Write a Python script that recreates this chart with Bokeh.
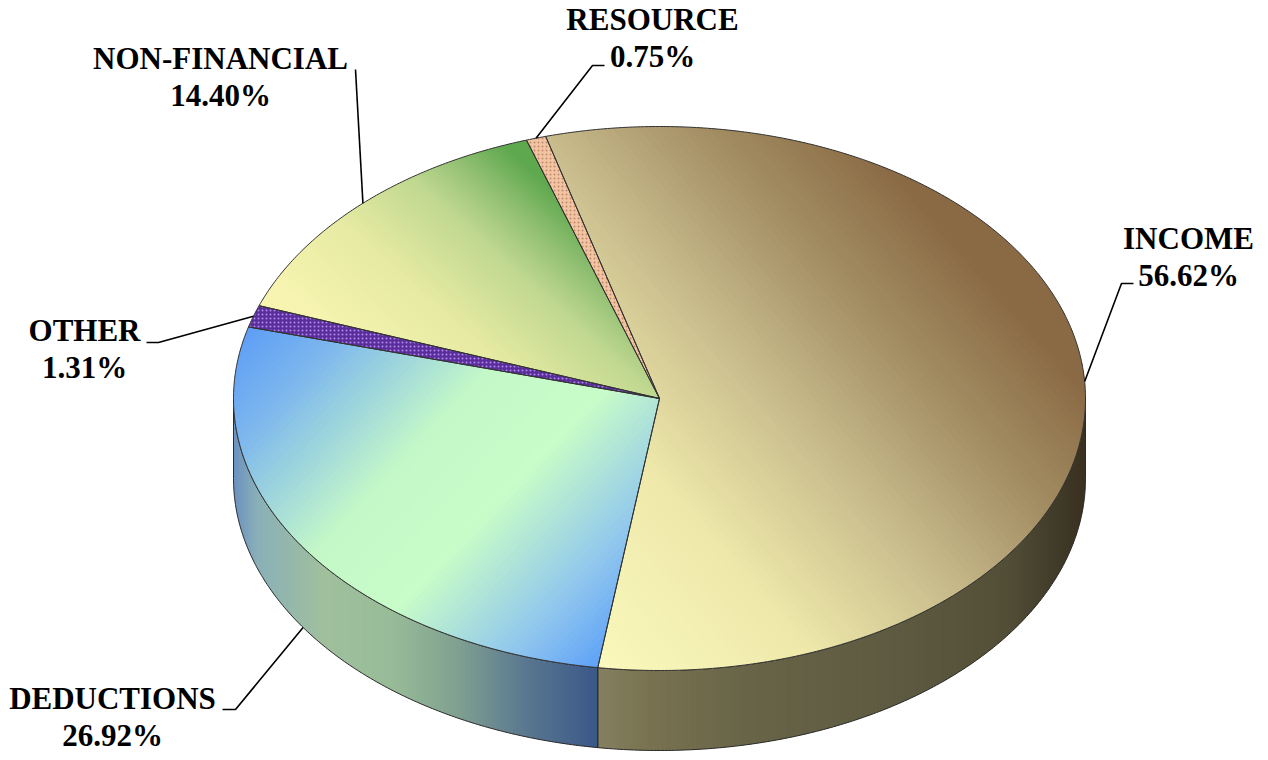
import numpy as np
from bokeh.plotting import figure
from bokeh.models import Range1d, ColumnDataSource
from bokeh.embed import file_html
from bokeh.resources import INLINE
from bokeh.core.properties import value

# ---------------- data ----------------
categories = ["RESOURCE", "INCOME", "DEDUCTIONS", "OTHER", "NON-FINANCIAL"]
shares = [0.75, 56.62, 26.92, 1.31, 14.40]
pct_labels = ["0.75%", "56.62%", "26.92%", "1.31%", "14.40%"]

# ---------------- layout / style ----------------
W, H = 1268, 760
CX, CY, RX, RY, DEPTH = 659, 398, 426, 272, 80
START = 108.2  # degrees, slices run clockwise

label_pos = {
    "RESOURCE": (652, 19),
    "INCOME": (1188, 238),
    "DEDUCTIONS": (112, 698),
    "OTHER": (84, 330),
    "NON-FINANCIAL": (220, 58),
}
leader_pts = {
    "RESOURCE": [(592, 65), (604, 65)],
    "INCOME": [(1121, 283), (1133, 283)],
    "DEDUCTIONS": [(235, 709), (222, 709)],
    "OTHER": [(158, 342), (146, 342)],
    "NON-FINANCIAL": [(355, 69)],
}
leader_on_side = {"DEDUCTIONS"}

top_grad = {
    "INCOME": ((600, 660), (1010, 300),
               [(0.0, "#faf8bc"), (0.3, "#eee8aa"), (0.55, "#cabe8e"),
                (0.8, "#a28c62"), (1.0, "#8a6a44")]),
    "DEDUCTIONS": ((240, 330), (600, 670),
                   [(0.0, "#5c9cf6"), (0.15, "#7cb6ee"), (0.42, "#c4f8c8"),
                    (0.62, "#c8fcc8"), (0.85, "#90c6ee"), (1.0, "#5ca0f8")]),
    "NON-FINANCIAL": ((330, 330), (500, 140),
                      [(0.0, "#f6f4b0"), (0.35, "#e6eaa2"), (0.66, "#c0d890"),
                       (0.82, "#96c276"), (1.0, "#5ea84e")]),
}
flat_style = {
    "OTHER": dict(fill_color="#5a2e9a", hatch_pattern="dot",
                  hatch_color="#b088ec", hatch_scale=4, hatch_weight=1),
    "RESOURCE": dict(fill_color="#f2c4a4", hatch_pattern="dot",
                     hatch_color="#c08a68", hatch_scale=4, hatch_weight=1),
}
side_grad = {
    "DEDUCTIONS": [(233, "#6a90c0"), (258, "#8ab0b8"), (325, "#a0c09c"),
                   (392, "#98bc98"), (458, "#80a090"), (525, "#5a7890"),
                   (597, "#3a5888")],
    "INCOME": [(597, "#858060"), (650, "#787250"), (750, "#686448"),
               (900, "#5c5a40"), (1000, "#545038"), (1060, "#403a28"),
               (1085, "#3a3020")],
}


def hex2rgb(h):
    h = h.lstrip("#")
    return np.array([int(h[i:i + 2], 16) for i in (0, 2, 4)], dtype=float)


def interp(stops, u):
    us = [s[0] for s in stops]
    cs = [hex2rgb(s[1]) for s in stops]
    u = min(max(u, us[0]), us[-1])
    for k in range(len(us) - 1):
        if us[k] <= u <= us[k + 1]:
            f = (u - us[k]) / (us[k + 1] - us[k]) if us[k + 1] > us[k] else 0
            c = cs[k] * (1 - f) + cs[k + 1] * f
            return "#%02x%02x%02x" % tuple(int(round(v)) for v in c)
    return stops[-1][1]


def pt(tdeg, r=1.0):
    t = np.radians(tdeg)
    return CX + r * RX * np.cos(t), CY - r * RY * np.sin(t)


def clip_half(poly, f, thr, keep_ge):
    """Sutherland-Hodgman clip of a polygon by the half plane f(q) >= thr (or <=)."""
    out = []
    n = len(poly)
    if n == 0:
        return out

    def inside(q):
        v = f(q)
        return v >= thr if keep_ge else v <= thr

    for i in range(n):
        cur, prv = poly[i], poly[i - 1]
        ci, pi = inside(cur), inside(prv)
        if ci != pi:
            fp, fc = f(prv), f(cur)
            s = (thr - fp) / (fc - fp)
            out.append((prv[0] + s * (cur[0] - prv[0]),
                        prv[1] + s * (cur[1] - prv[1])))
        if ci:
            out.append(cur)
    return out


def banded(poly, f, colour_of, nb, overlap):
    """Split polygon into nb bands along scalar field f, colour each band."""
    vals = [f(q) for q in poly]
    lo, hi = min(vals), max(vals)
    edges = np.linspace(lo, hi, nb + 1)
    bx, by, bc = [], [], []
    for k in range(nb):
        part = clip_half(poly, f, edges[k] - overlap, True)
        part = clip_half(part, f, edges[k + 1] + overlap, False)
        if len(part) < 3:
            continue
        bx.append([q[0] for q in part])
        by.append([q[1] for q in part])
        bc.append(colour_of((edges[k] + edges[k + 1]) / 2))
    return bx, by, bc


angles = {}
a = START
for c, s in zip(categories, shares):
    b = a - s * 3.6
    angles[c] = (a, b)
    a = b

p = figure(width=W, height=H, x_range=Range1d(0, W), y_range=Range1d(H, 0),
           output_backend="svg", toolbar_location=None, min_border=0,
           x_axis_location=None, y_axis_location=None)
p.grid.visible = False
p.outline_line_color = None
p.background_fill_color = "white"

# ---------------- side walls (front half of the disc) ----------------
sx, sy, sc = [], [], []
side_outlines_x, side_outlines_y = [], []
for c in categories:
    a0, b0 = angles[c]
    for k in (-2, -1, 0):
        lo, hi = max(b0, 180 + 360 * k), min(a0, 360 + 360 * k)
        if hi - lo <= 0.01:
            continue
        ts = np.linspace(lo, hi, int(np.ceil((hi - lo) / 0.5)) + 1)
        xs_top, ys_top = pt(ts)
        ox = list(xs_top) + list(xs_top[::-1])
        oy = list(ys_top) + list(ys_top[::-1] + DEPTH)
        poly = list(zip(ox, oy))
        nb = max(2, int((max(ox) - min(ox)) / 3))
        bx, by, bc = banded(poly, lambda q: q[0],
                            lambda xv, c=c: interp(side_grad[c], xv), nb, 0.6)
        sx += bx
        sy += by
        sc += bc
        side_outlines_x.append(ox + [ox[0]])
        side_outlines_y.append(oy + [oy[0]])

p.patches(xs="xs", ys="ys", fill_color="c", line_color=None,
          source=ColumnDataSource(dict(xs=sx, ys=sy, c=sc)))
p.multi_line(xs=side_outlines_x, ys=side_outlines_y, line_color="#2a2a2a",
             line_width=1)

# ---------------- top faces (gradient bands clipped to each slice) ----------------
mx, my, mc = [], [], []
outline_x, outline_y = [], []
for c in categories:
    a0, b0 = angles[c]
    ts_full = np.linspace(a0, b0, max(3, int(np.ceil((a0 - b0) / 0.5)) + 1))
    ex, ey = pt(ts_full)
    poly_x = [CX] + list(ex) + [CX]
    poly_y = [CY] + list(ey) + [CY]
    outline_x.append(poly_x)
    outline_y.append(poly_y)
    if c in top_grad:
        (ax_, ay_), (bx_, by_), stops = top_grad[c]
        vx, vy = bx_ - ax_, by_ - ay_
        L2 = vx * vx + vy * vy
        f = lambda q, ax_=ax_, ay_=ay_, vx=vx, vy=vy, L2=L2: \
            ((q[0] - ax_) * vx + (q[1] - ay_) * vy) / L2
        poly = list(zip(poly_x[:-1], poly_y[:-1]))
        bx, by, bc = banded(poly, f, lambda u, stops=stops: interp(stops, u),
                            90, 0.002)
        mx += bx
        my += by
        mc += bc

p.patches(xs="xs", ys="ys", fill_color="c", line_color=None,
          source=ColumnDataSource(dict(xs=mx, ys=my, c=mc)))

for c in categories:
    if c in flat_style:
        i = categories.index(c)
        p.patch(outline_x[i], outline_y[i], line_color=None, **flat_style[c])

p.multi_line(xs=outline_x, ys=outline_y, line_color="#333333", line_width=1)

# ---------------- leaders & labels ----------------
lx, ly = [], []
tx, ty, tt = [], [], []
for c, pl in zip(categories, pct_labels):
    a0, b0 = angles[c]
    mid = (a0 + b0) / 2
    x0, y0 = pt(mid)
    if c in leader_on_side:
        y0 = y0 + DEPTH
    lx.append([x0] + [q[0] for q in leader_pts[c]])
    ly.append([y0] + [q[1] for q in leader_pts[c]])
    cx_, cy_ = label_pos[c]
    tx += [cx_, cx_]
    ty += [cy_, cy_ + 37]
    tt += [c, pl]

p.multi_line(xs=lx, ys=ly, line_color="black", line_width=1.6)
p.text(x=tx, y=ty, text=tt, text_font=value("Liberation Serif"),
       text_font_style="bold", text_font_size="31px", text_align="center",
       text_baseline="middle", text_color="black")

open("out.html", "w").write(file_html(p, INLINE))
